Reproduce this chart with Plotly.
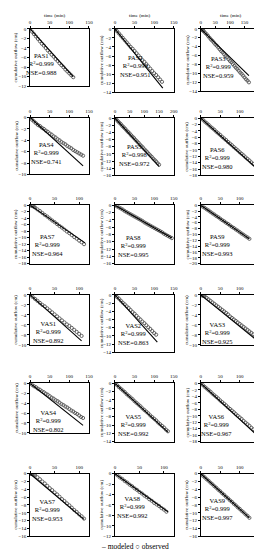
import plotly.graph_objects as go

W, H = 262, 550

# ---------------- data ----------------
T165 = [0, 5, 10, 15, 20, 25, 30, 35, 40, 45, 50, 55, 60, 65, 70, 75, 80, 85, 90, 95,
        100, 105, 110, 115, 120, 125, 130, 135, 140, 145, 150, 155, 160, 165]
EARLY = [0, 2, 4, 6, 8]

NAMES = ["PAS1", "PAS2", "PAS3", "PAS4", "PAS5", "PAS6", "PAS7", "PAS8", "PAS9",
         "VAS1", "VAS2", "VAS3", "VAS4", "VAS5", "VAS6", "VAS7", "VAS8", "VAS9"]
R2 = ["0.999", "0.999", "0.999", "0.999", "0.998", "0.999", "0.999", "0.999", "0.999",
      "0.999", "0.999", "0.999", "0.999", "0.999", "0.999", "0.999", "0.999", "0.999"]
NSE = ["0.988", "0.951", "0.959", "0.741", "0.972", "0.980", "0.964", "0.995", "0.993",
       "0.892", "0.863", "0.925", "0.802", "0.992", "0.967", "0.953", "0.992", "0.997"]
X_MAX = [150, 150, 200, 150, 200, 150, 120, 150, 150,
         120, 150, 150, 150, 150, 150, 120, 120, 150]
Y_MIN = [-12, -14, -14, -10, -16, -18, -18, -16, -20,
         -10, -14, -10, -10, -14, -18, -16, -12, -16]

# observed time grids
PAS1_t = T165[:23]
PAS2_t = T165[:25]
PAS3_t = EARLY + T165[2:34]
PAS4_t = T165[:28]
PAS5_t = T165[:31]
PAS6_t = T165[:31]
PAS7_t = EARLY + T165[2:23]
PAS8_t = T165[:30]
PAS9_t = T165[:26]
VAS1_t = T165[:22]
VAS2_t = T165[:22]
VAS3_t = EARLY + T165[2:29]
VAS4_t = T165[:28]
VAS5_t = T165[:28]
VAS6_t = T165[:29]
VAS7_t = EARLY + T165[2:23]
VAS8_t = T165[:22]
VAS9_t = T165[:26]

# observed cumulative outflow (cm)
PAS1_obs = [0, -0.6, -1.1, -1.6, -2.1, -2.6, -3.1, -3.5, -4.0, -4.5, -4.9, -5.4, -5.8, -6.3,
            -6.7, -7.2, -7.6, -8.0, -8.5, -8.9, -9.3, -9.7, -10.1]
PAS2_obs = [0, -0.5, -1.0, -1.5, -2.0, -2.5, -3.0, -3.5, -4.0, -4.4, -4.9, -5.4, -5.9, -6.4,
            -6.9, -7.3, -7.8, -8.3, -8.8, -9.3, -9.8, -10.2, -10.7, -11.2, -11.7]
PAS3_obs = [0, -0.1, -0.2, -0.3, -0.4, -0.5, -0.9, -1.2, -1.6, -2.0, -2.4, -2.7, -3.1, -3.5,
            -3.8, -4.2, -4.6, -5.0, -5.3, -5.7, -6.1, -6.4, -6.8, -7.2, -7.5, -7.9, -8.3,
            -8.7, -9.0, -9.4, -9.8, -10.1, -10.5, -10.9, -11.3, -11.6, -12.0]
PAS4_obs = [0, -0.4, -0.7, -1.0, -1.3, -1.5, -1.8, -2.0, -2.3, -2.5, -2.8, -3.0, -3.3, -3.5,
            -3.8, -4.0, -4.3, -4.5, -4.7, -5.0, -5.2, -5.4, -5.7, -5.9, -6.1, -6.3, -6.5, -6.7]
PAS5_obs = [0, -0.4, -0.9, -1.3, -1.7, -2.2, -2.6, -3.0, -3.5, -3.9, -4.3, -4.8, -5.2, -5.6,
            -6.1, -6.5, -6.9, -7.4, -7.8, -8.2, -8.7, -9.1, -9.5, -10.0, -10.4, -10.8, -11.3,
            -11.7, -12.1, -12.6, -13.0]
PAS6_obs = [0, -0.5, -1.1, -1.6, -2.1, -2.7, -3.2, -3.7, -4.3, -4.8, -5.3, -5.9, -6.4, -6.9,
            -7.5, -8.0, -8.5, -9.1, -9.6, -10.1, -10.7, -11.2, -11.7, -12.3, -12.8, -13.3,
            -13.9, -14.4, -14.9, -15.5, -16.0]
PAS7_obs = [0, -0.1, -0.2, -0.3, -0.5, -0.7, -1.3, -1.8, -2.4, -3.0, -3.5, -4.1, -4.7, -5.2,
            -5.8, -6.4, -6.9, -7.5, -8.1, -8.6, -9.2, -9.8, -10.3, -10.9, -11.4, -12.0]
PAS8_obs = [0, -0.3, -0.6, -0.9, -1.2, -1.6, -1.9, -2.2, -2.5, -2.8, -3.1, -3.4, -3.7, -4.0,
            -4.3, -4.7, -5.0, -5.3, -5.6, -5.9, -6.2, -6.5, -6.8, -7.1, -7.4, -7.8, -8.1,
            -8.4, -8.7, -9.0]
PAS9_obs = [0, -0.5, -0.9, -1.4, -1.8, -2.3, -2.8, -3.2, -3.7, -4.1, -4.6, -5.1, -5.5, -6.0,
            -6.4, -6.9, -7.4, -7.8, -8.3, -8.7, -9.2, -9.7, -10.1, -10.6, -11.0, -11.5]
VAS1_obs = [0, -0.4, -0.8, -1.2, -1.6, -2.0, -2.3, -2.7, -3.1, -3.5, -3.9, -4.3, -4.7, -5.1,
            -5.5, -5.9, -6.2, -6.6, -7.0, -7.4, -7.8, -8.2]
VAS2_obs = [0, -0.5, -0.9, -1.4, -1.9, -2.3, -2.8, -3.2, -3.7, -4.2, -4.6, -5.1, -5.6, -6.0,
            -6.5, -6.9, -7.4, -7.9, -8.3, -8.8, -9.3, -9.7]
VAS3_obs = [0, -0.05, -0.1, -0.15, -0.2, -0.3, -0.6, -0.9, -1.2, -1.5, -1.8, -2.1, -2.4, -2.7,
            -3.0, -3.3, -3.6, -3.9, -4.3, -4.6, -4.9, -5.2, -5.5, -5.8, -6.1, -6.4, -6.7,
            -7.0, -7.3, -7.6, -7.9, -8.2]
VAS4_obs = [0, -0.3, -0.6, -0.8, -1.1, -1.3, -1.6, -1.8, -2.1, -2.3, -2.6, -2.9, -3.1, -3.4,
            -3.6, -3.9, -4.2, -4.4, -4.7, -4.9, -5.2, -5.5, -5.7, -6.0, -6.2, -6.5, -6.8, -7.0]
VAS5_obs = [0, -0.4, -0.9, -1.3, -1.7, -2.1, -2.6, -3.0, -3.4, -3.8, -4.3, -4.7, -5.1, -5.5,
            -6.0, -6.4, -6.8, -7.2, -7.7, -8.1, -8.5, -8.9, -9.4, -9.8, -10.2, -10.6, -11.1,
            -11.5]
VAS6_obs = [0, -0.5, -1.1, -1.6, -2.1, -2.6, -3.2, -3.7, -4.2, -4.7, -5.3, -5.8, -6.3, -6.8,
            -7.4, -7.9, -8.4, -8.9, -9.5, -10.0, -10.5, -11.0, -11.6, -12.1, -12.6, -13.1,
            -13.7, -14.2, -14.7]
VAS7_obs = [0, -0.05, -0.1, -0.15, -0.2, -0.3, -0.9, -1.4, -2.0, -2.5, -3.1, -3.7, -4.2, -4.8,
            -5.3, -5.9, -6.5, -7.0, -7.6, -8.1, -8.7, -9.3, -9.8, -10.4, -10.9, -11.5]
VAS8_obs = [0, -0.3, -0.7, -1.0, -1.4, -1.7, -2.1, -2.4, -2.8, -3.1, -3.5, -3.8, -4.2, -4.5,
            -4.9, -5.2, -5.6, -5.9, -6.2, -6.6, -6.9, -7.3]
VAS9_obs = [0, -0.5, -0.9, -1.4, -1.8, -2.3, -2.7, -3.2, -3.6, -4.1, -4.5, -5.0, -5.4, -5.9,
            -6.3, -6.8, -7.2, -7.7, -8.1, -8.6, -9.0, -9.5, -9.9, -10.4, -10.8, -11.3]

# modeled cumulative outflow (cm)
PAS1_tm = [0, 30, 60, 90, 110];            PAS1_mod = [0, -2.7, -5.5, -8.2, -10.0]
PAS2_tm = [0, 30, 60, 90, 122];            PAS2_mod = [0, -3.2, -6.5, -9.7, -13.1]
PAS3_tm = [0, 30, 60, 90, 120, 150, 165];  PAS3_mod = [0, -1.9, -3.8, -5.7, -7.6, -9.5, -10.5]
PAS4_tm = [0, 30, 60, 90, 120, 135];       PAS4_mod = [0, -1.9, -3.8, -5.7, -7.6, -8.5]
PAS5_tm = [0, 30, 60, 90, 120, 150];       PAS5_mod = [0, -2.7, -5.4, -8.1, -10.8, -13.5]
PAS6_tm = [0, 30, 60, 90, 120, 150];       PAS6_mod = [0, -3.3, -6.6, -9.9, -13.2, -16.5]
PAS7_tm = [0, 30, 60, 90, 112];            PAS7_mod = [0, -3.1, -6.2, -9.3, -11.6]
PAS8_tm = [0, 30, 60, 90, 120, 145];       PAS8_mod = [0, -1.9, -3.7, -5.6, -7.4, -9.0]
PAS9_tm = [0, 30, 60, 90, 125];            PAS9_mod = [0, -2.8, -5.5, -8.3, -11.5]
VAS1_tm = [0, 30, 60, 90, 105];            VAS1_mod = [0, -2.6, -5.3, -7.9, -9.2]
VAS2_tm = [0, 30, 60, 90, 108];            VAS2_mod = [0, -3.2, -6.4, -9.6, -11.5]
VAS3_tm = [0, 30, 60, 90, 120, 140];       VAS3_mod = [0, -1.9, -3.8, -5.7, -7.5, -8.8]
VAS4_tm = [0, 30, 60, 90, 120, 135];       VAS4_mod = [0, -1.9, -3.8, -5.7, -7.6, -8.5]
VAS5_tm = [0, 30, 60, 90, 120, 135];       VAS5_mod = [0, -2.6, -5.2, -7.8, -10.4, -11.7]
VAS6_tm = [0, 30, 60, 90, 120, 140];       VAS6_mod = [0, -3.3, -6.6, -10.0, -13.3, -15.5]
VAS7_tm = [0, 30, 60, 90, 110];            VAS7_mod = [0, -3.2, -6.4, -9.6, -11.7]
VAS8_tm = [0, 30, 60, 90, 108];            VAS8_mod = [0, -2.0, -4.1, -6.1, -7.3]
VAS9_tm = [0, 30, 60, 90, 125];            VAS9_mod = [0, -2.7, -5.4, -8.1, -11.3]

OBS_T = [PAS1_t, PAS2_t, PAS3_t, PAS4_t, PAS5_t, PAS6_t, PAS7_t, PAS8_t, PAS9_t,
         VAS1_t, VAS2_t, VAS3_t, VAS4_t, VAS5_t, VAS6_t, VAS7_t, VAS8_t, VAS9_t]
OBS = [PAS1_obs, PAS2_obs, PAS3_obs, PAS4_obs, PAS5_obs, PAS6_obs, PAS7_obs, PAS8_obs, PAS9_obs,
       VAS1_obs, VAS2_obs, VAS3_obs, VAS4_obs, VAS5_obs, VAS6_obs, VAS7_obs, VAS8_obs, VAS9_obs]
MOD_T = [PAS1_tm, PAS2_tm, PAS3_tm, PAS4_tm, PAS5_tm, PAS6_tm, PAS7_tm, PAS8_tm, PAS9_tm,
         VAS1_tm, VAS2_tm, VAS3_tm, VAS4_tm, VAS5_tm, VAS6_tm, VAS7_tm, VAS8_tm, VAS9_tm]
MOD = [PAS1_mod, PAS2_mod, PAS3_mod, PAS4_mod, PAS5_mod, PAS6_mod, PAS7_mod, PAS8_mod, PAS9_mod,
       VAS1_mod, VAS2_mod, VAS3_mod, VAS4_mod, VAS5_mod, VAS6_mod, VAS7_mod, VAS8_mod, VAS9_mod]

# ---------------- layout (pixel positions) ----------------
COL_X = [(21.5, 81.5), (108.0, 168.0), (195.5, 255.0)]
PANEL_Y = [(19, 77), (19, 83), (19, 82),
           (108.5, 166), (109, 167), (109, 167),
           (197, 256), (197, 256), (197, 256),
           (287.5, 338), (287.5, 345.5), (287.5, 338),
           (376.7, 426.7), (376.7, 435.7), (376.7, 435.7),
           (468, 531), (468, 531), (468, 531)]
LABEL_POS = [(33, 55), (129, 56.7), (213.5, 58),
             (38, 144.3), (127.5, 146.7), (213, 149.3),
             (39.5, 236.7), (126.5, 237.7), (213, 236.7),
             (40.5, 325), (127, 326.7), (213, 325.7),
             (40, 415), (127, 419), (212, 419),
             (39.5, 505), (125.5, 502), (212.5, 503.3)]
YTITLE_X = [7, 94.5, 181.5]
TIME_X = [46.7, 133.3, 226.7]

FONT = "Liberation Serif"

def px(x):
    return x / W

def py(y):
    return 1 - y / H

fig = go.Figure()
annotations = []
layout = {}

for i in range(18):
    k = i + 1
    col = i % 3
    xa = "x" if k == 1 else f"x{k}"
    ya = "y" if k == 1 else f"y{k}"
    fig.add_trace(go.Scatter(
        x=OBS_T[i], y=OBS[i], mode="markers", xaxis=xa, yaxis=ya, showlegend=False,
        marker=dict(symbol="circle-open", size=3.2, color="#555555", line=dict(width=0.9)),
        name="observed"))
    fig.add_trace(go.Scatter(
        x=MOD_T[i], y=MOD[i], mode="lines", xaxis=xa, yaxis=ya, showlegend=False,
        line=dict(color="black", width=1.1), name="modeled"))

    top, bot = PANEL_Y[i]
    x0, x1 = COL_X[col]
    layout["xaxis" if k == 1 else f"xaxis{k}"] = dict(
        domain=[px(x0), px(x1)], range=[0, X_MAX[i]], dtick=50, side="top",
        anchor=ya, showline=True, mirror=True, linecolor="black", linewidth=0.6,
        ticks="outside", ticklen=2, tickwidth=0.5, tickcolor="black",
        tickfont=dict(family=FONT, size=5, color="black"),
        showgrid=False, zeroline=False, fixedrange=True)
    layout["yaxis" if k == 1 else f"yaxis{k}"] = dict(
        domain=[py(bot), py(top)], range=[Y_MIN[i], 0], dtick=2,
        anchor=xa, showline=True, mirror=True, linecolor="black", linewidth=0.6,
        ticks="outside", ticklen=2, tickwidth=0.5, tickcolor="black",
        tickfont=dict(family=FONT, size=5, color="black"),
        showgrid=False, zeroline=False, fixedrange=True)

    lx, ly = LABEL_POS[i]
    annotations.append(dict(
        x=px(lx), y=py(ly), xref="paper", yref="paper", showarrow=False,
        xanchor="center", yanchor="middle", align="center",
        text=f"{NAMES[i]}<br>R<sup>2</sup>={R2[i]}<br>NSE={NSE[i]}",
        font=dict(family=FONT, size=6.5, color="black")))
    annotations.append(dict(
        x=px(YTITLE_X[col]), y=py((top + bot) / 2), xref="paper", yref="paper",
        showarrow=False, textangle=-90, xanchor="center", yanchor="middle",
        text="cumulative outflow (cm)", font=dict(family=FONT, size=5, color="black")))

for col in range(3):
    annotations.append(dict(
        x=px(TIME_X[col]), y=py(5.3), xref="paper", yref="paper", showarrow=False,
        xanchor="center", yanchor="middle", text="time (min)",
        font=dict(family=FONT, size=5, color="black")))

annotations.append(dict(
    x=px(128), y=py(541.5), xref="paper", yref="paper", showarrow=False,
    xanchor="center", yanchor="middle", borderpad=0, text="– modeled \u25cb observed",
    font=dict(family=FONT, size=7.5, color="black")))

fig.update_layout(
    width=W, height=H, margin=dict(l=0, r=0, t=0, b=0),
    paper_bgcolor="white", plot_bgcolor="white",
    annotations=annotations, **layout)

fig.write_html("out.html", config={"displayModeBar": False})
